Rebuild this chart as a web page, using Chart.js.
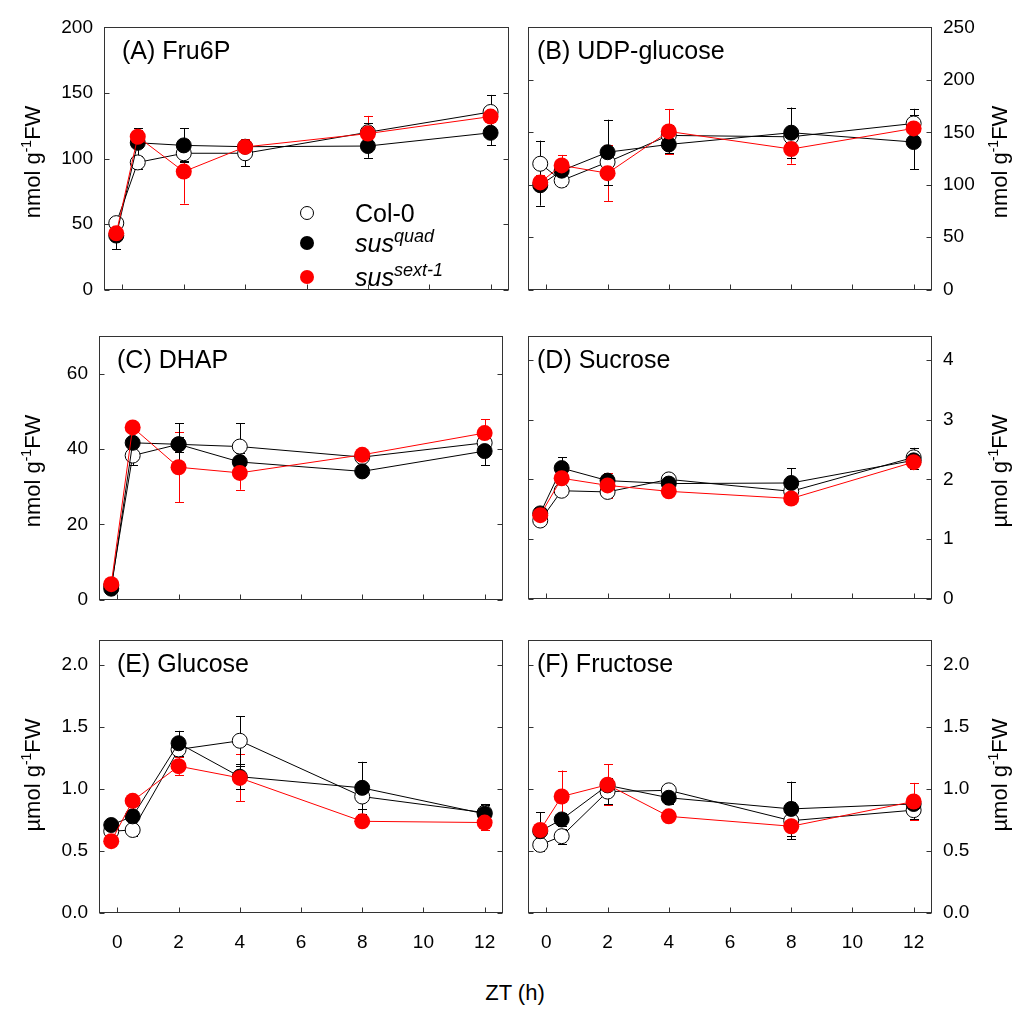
<!DOCTYPE html>
<html>
<head>
<meta charset="utf-8">
<script src="https://cdn.jsdelivr.net/npm/chart.js@4.4.1/dist/chart.umd.min.js"></script>
<style>
  body { margin: 0; background: #fff; }
  #page { position: relative; width: 1027px; height: 1009px; font-family: "Liberation Sans", Arial, sans-serif; color: #000; }
  .box { position: absolute; }
  .ttl { position: absolute; font-size: 25px; line-height: 1; white-space: nowrap; transform: translateY(-50%); }
  .ylab { position: absolute; font-size: 22px; line-height: 1; white-space: nowrap; transform: translate(-50%, -50%) rotate(-90deg); }
  .ylab sup { font-size: 14px; vertical-align: 9px; line-height: 0; }
  .leg { position: absolute; font-size: 25px; line-height: 1; white-space: nowrap; transform: translateY(-50%); }
  .leg i sup { font-size: 18px; vertical-align: 10px; line-height: 0; }
  .dot { position: absolute; width: 14px; height: 14px; border-radius: 50%; box-sizing: border-box; transform: translate(-50%, -50%); }
  #xt { position: absolute; left: 515px; top: 993px; font-size: 22px; transform: translate(-50%, -50%); white-space: nowrap; }
</style>
</head>
<body>
<div id="page">
  <div id="xt">ZT (h)</div>
  <div class="dot" style="left:307px;top:213px;border:1px solid #000;background:#fff"></div>
  <div class="dot" style="left:307px;top:243px;background:#000"></div>
  <div class="dot" style="left:307px;top:277px;background:#f00"></div>
  <div class="leg" style="left:355px;top:213px">Col-0</div>
  <div class="leg" style="left:355px;top:243px"><i>sus<sup>quad</sup></i></div>
  <div class="leg" style="left:355px;top:277px"><i>sus<sup>sext-1</sup></i></div>
</div>
<script>
// sampling times (h)
const zt = [-0.2, 0.5, 2, 4, 8, 12];
const xTicks = [0, 2, 4, 6, 8, 10, 12];

// (A) Fru6P, nmol/g FW
const fru6pCol = [50.7, 97, 104, 104, 120, 135.5];
const fru6pColErr = [3, 5, 6, 10, 7, 13];
const fru6pQuad = [41.2, 112, 110, 109, 109.5, 119.6];
const fru6pQuadErr = [10.5, 11, 13, 4, 9, 9.5];
const fru6pSext = [42.9, 116.6, 90, 108.8, 119, 132];
const fru6pSextErr = [4, 5, 24.5, 6, 13.5, 4];

// (B) UDP-glucose, nmol/g FW
const udpgCol = [120, 104, 121.6, 147, 145.7, 158.4];
const udpgColErr = [22, 5, 8, 10, 6, 14];
const udpgQuad = [99.5, 113.4, 131, 138.4, 149.6, 140.7];
const udpgQuadErr = [19.5, 6, 31, 8, 24, 26];
const udpgSext = [102.2, 118.4, 111, 150.8, 134, 153.7];
const udpgSextErr = [7, 10, 26.5, 21.5, 14, 8];

// (C) DHAP, nmol/g FW
const dhapCol = [3.7, 38.3, 41.3, 40.7, 37.9, 41.7];
const dhapColErr = [0.5, 2.5, 2, 6.2, 1, 3];
const dhapQuad = [2.9, 41.7, 41.3, 36.6, 34.1, 39.5];
const dhapQuadErr = [0.5, 1, 5.6, 2.5, 0.8, 3.8];
const dhapSext = [4.1, 45.8, 35.2, 33.7, 38.5, 44.3];
const dhapSextErr = [0.5, 1, 9.3, 4.5, 1.5, 3.7];

// (D) Sucrose, umol/g FW
const sucCol = [1.31, 1.81, 1.79, 2.0, 1.8, 2.37];
const sucColErr = [0.05, 0.05, 0.08, 0.05, 0.06, 0.16];
const sucQuad = [1.43, 2.19, 1.98, 1.93, 1.94, 2.32];
const sucQuadErr = [0.05, 0.18, 0.1, 0.05, 0.25, 0.15];
const sucSext = [1.40, 2.02, 1.9, 1.8, 1.68, 2.29];
const sucSextErr = [0.05, 0.2, 0.21, 0.07, 0.05, 0.12];

// (E) Glucose, umol/g FW
const glcCol = [0.66, 0.67, 1.32, 1.39, 0.94, 0.81];
const glcColErr = [0.03, 0.05, 0.05, 0.2, 0.1, 0.06];
const glcQuad = [0.71, 0.78, 1.37, 1.10, 1.01, 0.80];
const glcQuadErr = [0.03, 0.08, 0.1, 0.1, 0.21, 0.08];
const glcSext = [0.58, 0.905, 1.185, 1.09, 0.74, 0.73];
const glcSextErr = [0.03, 0.03, 0.07, 0.19, 0.04, 0.06];

// (F) Fructose, umol/g FW
const fruCol = [0.55, 0.62, 0.98, 0.99, 0.745, 0.83];
const fruColErr = [0.05, 0.06, 0.1, 0.03, 0.15, 0.07];
const fruQuad = [0.66, 0.755, 1.03, 0.93, 0.84, 0.88];
const fruQuadErr = [0.155, 0.05, 0.06, 0.05, 0.22, 0.06];
const fruSext = [0.67, 0.94, 1.035, 0.78, 0.70, 0.9];
const fruSextErr = [0.03, 0.21, 0.165, 0.03, 0.1, 0.15];

const nmol = 'nmol g<sup>-1</sup>FW';
const umol = 'µmol g<sup>-1</sup>FW';

const panels = [
  { title: '(A) Fru6P', frame: [104, 17, 509, 300], side: 'left', max: 200, yTicks: [0, 50, 100, 150, 200], dec: 0, unit: nmol,
    xLab: false, col: fru6pCol, colErr: fru6pColErr, quad: fru6pQuad, quadErr: fru6pQuadErr, sext: fru6pSext, sextErr: fru6pSextErr },
  { title: '(B) UDP-glucose', frame: [528, 17, 932, 300], side: 'right', max: 250, yTicks: [0, 50, 100, 150, 200, 250], dec: 0, unit: nmol,
    xLab: false, col: udpgCol, colErr: udpgColErr, quad: udpgQuad, quadErr: udpgQuadErr, sext: udpgSext, sextErr: udpgSextErr },
  { title: '(C) DHAP', frame: [99, 326, 503, 610], side: 'left', max: 70, yTicks: [0, 20, 40, 60], dec: 0, unit: nmol,
    xLab: false, col: dhapCol, colErr: dhapColErr, quad: dhapQuad, quadErr: dhapQuadErr, sext: dhapSext, sextErr: dhapSextErr },
  { title: '(D) Sucrose', frame: [528, 326, 932, 609], side: 'right', max: 4.4, yTicks: [0, 1, 2, 3, 4], dec: 0, unit: umol,
    xLab: false, col: sucCol, colErr: sucColErr, quad: sucQuad, quadErr: sucQuadErr, sext: sucSext, sextErr: sucSextErr },
  { title: '(E) Glucose', frame: [99, 630, 503, 913], side: 'left', max: 2.2, yTicks: [0, 0.5, 1, 1.5, 2], dec: 1, unit: umol,
    xLab: true, col: glcCol, colErr: glcColErr, quad: glcQuad, quadErr: glcQuadErr, sext: glcSext, sextErr: glcSextErr },
  { title: '(F) Fructose', frame: [528, 630, 932, 913], side: 'right', max: 2.2, yTicks: [0, 0.5, 1, 1.5, 2], dec: 1, unit: umol,
    xLab: true, col: fruCol, colErr: fruColErr, quad: fruQuad, quadErr: fruQuadErr, sext: fruSext, sextErr: fruSextErr }
];

// error bars, drawn under the markers
const errorBars = {
  id: 'errorBars',
  beforeDatasetsDraw(chart) {
    const ctx = chart.ctx;
    const x = chart.scales.x, y = chart.scales.y;
    chart.data.datasets.forEach(ds => {
      ctx.save();
      ctx.strokeStyle = ds.errColor;
      ctx.lineWidth = 1;
      ds.data.forEach((pt, i) => {
        const e = ds.errors[i];
        if (!e) return;
        const px = Math.round(x.getPixelForValue(pt.x)) + 0.5;
        const top = y.getPixelForValue(pt.y + e);
        const bot = y.getPixelForValue(pt.y - e);
        ctx.beginPath();
        ctx.moveTo(px, top); ctx.lineTo(px, bot);
        ctx.moveTo(px - 4.5, Math.round(top) + 0.5); ctx.lineTo(px + 4.5, Math.round(top) + 0.5);
        ctx.moveTo(px - 4.5, Math.round(bot) + 0.5); ctx.lineTo(px + 4.5, Math.round(bot) + 0.5);
        ctx.stroke();
      });
      ctx.restore();
    });
  }
};

// box frame and inward tick marks
const frame = {
  id: 'frame',
  afterDraw(chart) {
    const ctx = chart.ctx;
    const a = chart.chartArea;
    const x = chart.scales.x, y = chart.scales.y;
    const l = Math.round(a.left) + 0.5, r = Math.round(a.right) - 0.5;
    const t = Math.round(a.top) + 0.5, b = Math.round(a.bottom) - 0.5;
    ctx.save();
    ctx.strokeStyle = '#333';
    ctx.lineWidth = 1;
    ctx.strokeRect(l, t, r - l, b - t);
    ctx.beginPath();
    y.ticks.forEach(tk => {
      const py = Math.round(y.getPixelForValue(tk.value)) + 0.5;
      ctx.moveTo(l, py); ctx.lineTo(l + 5, py);
      ctx.moveTo(r, py); ctx.lineTo(r - 5, py);
    });
    x.ticks.forEach(tk => {
      const px = Math.round(x.getPixelForValue(tk.value)) + 0.5;
      ctx.moveTo(px, b); ctx.lineTo(px, b - 5);
    });
    ctx.stroke();
    ctx.restore();
  }
};

const page = document.getElementById('page');

panels.forEach(p => {
  const [L, T, R, B] = p.frame;
  const side = 60, padTop = 12, padBot = p.xLab ? 50 : 12;
  const w = R - L + 2 * side, h = B - T + padTop + padBot;

  const box = document.createElement('div');
  box.className = 'box';
  box.style.left = (L - side) + 'px';
  box.style.top = (T - padTop) + 'px';
  const canvas = document.createElement('canvas');
  canvas.width = w; canvas.height = h;
  box.appendChild(canvas);
  page.insertBefore(box, page.firstChild);

  const ttl = document.createElement('div');
  ttl.className = 'ttl';
  ttl.textContent = p.title;
  ttl.style.left = (L + (p.side === 'left' ? 18 : 9)) + 'px';
  ttl.style.top = (T + 33) + 'px';
  page.appendChild(ttl);

  const yl = document.createElement('div');
  yl.className = 'ylab';
  yl.innerHTML = p.unit;
  yl.style.left = (p.side === 'left' ? 33 : 1000) + 'px';
  yl.style.top = ((T + B) / 2 + 3) + 'px';
  page.appendChild(yl);

  const pts = vals => vals.map((v, i) => ({ x: zt[i], y: v }));

  new Chart(canvas.getContext('2d'), {
    type: 'line',
    data: {
      datasets: [
        { label: 'sus sext-1', data: pts(p.sext), errors: p.sextErr, errColor: '#f00', order: 1,
          borderColor: '#f00', borderWidth: 1, pointRadius: 8, pointBackgroundColor: '#f00', pointBorderColor: '#f00', pointBorderWidth: 0 },
        { label: 'sus quad', data: pts(p.quad), errors: p.quadErr, errColor: '#000', order: 2,
          borderColor: '#000', borderWidth: 1, pointRadius: 7.5, pointBackgroundColor: '#000', pointBorderColor: '#000', pointBorderWidth: 1 },
        { label: 'Col-0', data: pts(p.col), errors: p.colErr, errColor: '#000', order: 3,
          borderColor: '#000', borderWidth: 1, pointRadius: 7.5, pointBackgroundColor: '#fff', pointBorderColor: '#000', pointBorderWidth: 1 }
      ]
    },
    options: {
      responsive: false,
      animation: false,
      clip: false,
      layout: {
        autoPadding: false,
        padding: { left: p.side === 'left' ? 0 : side, right: p.side === 'right' ? 0 : side, top: padTop, bottom: p.xLab ? 0 : padBot }
      },
      plugins: { legend: { display: false }, tooltip: { enabled: false } },
      scales: {
        x: {
          type: 'linear', min: -0.6, max: 12.6,
          grid: { display: false, drawTicks: false },
          border: { display: false },
          ticks: { display: p.xLab, padding: 18, color: '#000', font: { size: 19, family: 'Liberation Sans' } },
          afterBuildTicks: s => { s.ticks = xTicks.map(v => ({ value: v })); },
          afterFit: s => { s.height = p.xLab ? padBot : 0; }
        },
        y: {
          type: 'linear', position: p.side, min: 0, max: p.max,
          grid: { display: false, drawTicks: false },
          border: { display: false },
          ticks: { padding: 11, color: '#000', font: { size: 19, family: 'Liberation Sans' },
            callback: v => Number(v).toFixed(p.dec) },
          afterBuildTicks: s => { s.ticks = p.yTicks.map(v => ({ value: v })); },
          afterFit: s => { s.width = side; }
        }
      }
    },
    plugins: [errorBars, frame]
  });
});
</script>
</body>
</html>
